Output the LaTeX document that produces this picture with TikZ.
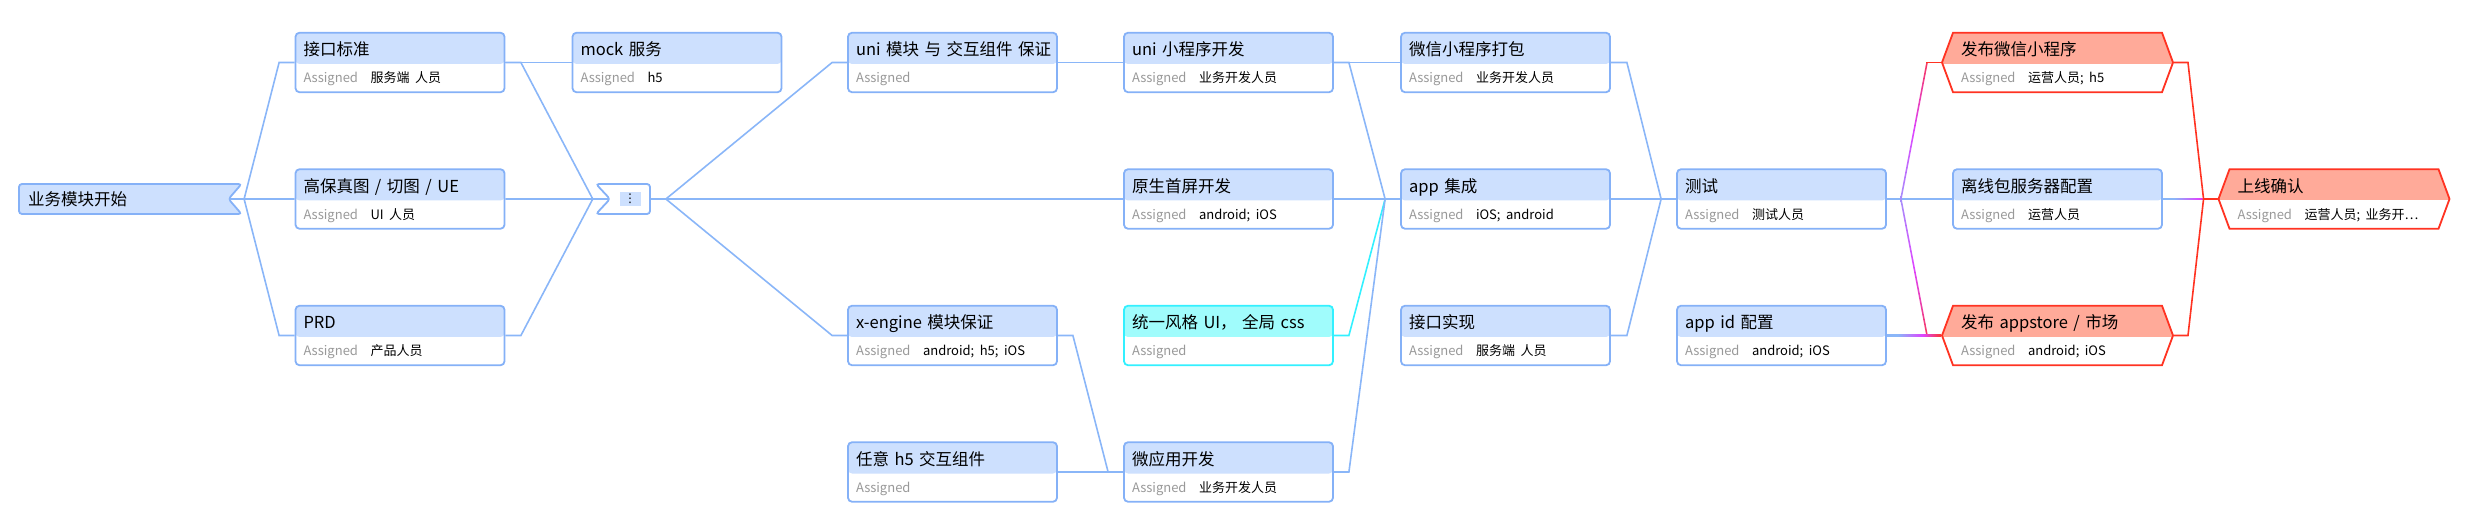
\documentclass[tikz,border=0pt]{standalone}
\usepackage{fontspec}
\setmainfont{Noto Sans CJK SC}
\newfontfamily\symfont{DejaVu Sans}
\usetikzlibrary{shapes.symbols}
\definecolor{lnk}{HTML}{8AB6F8}
\definecolor{bdr}{HTML}{85B1F7}
\definecolor{hdr}{HTML}{CDE0FE}
\definecolor{cyn}{HTML}{33F0FF}
\definecolor{cynhdr}{HTML}{A0FCFC}
\definecolor{rdb}{HTML}{FF3322}
\definecolor{rdhdr}{HTML}{FFAA99}
\definecolor{mgt}{HTML}{DD44FF}
\definecolor{asgray}{HTML}{999999}

\newcommand\asgn{\fontsize{13}{27}\selectfont\makebox[67pt][l]{\color{asgray}Assigned}}

\pgfdeclarehorizontalshading{lnkshade}{100bp}{color(0bp)=(lnk); color(35bp)=(lnk); color(58bp)=(mgt); color(76bp)=(rdb); color(100bp)=(rdb)}
\pgfdeclareverticalshading{lnkvshade}{100bp}{color(0bp)=(lnk); color(12bp)=(lnk); color(50bp)=(mgt); color(85bp)=(rdb); color(100bp)=(rdb)}

\tikzset{
  hdrfill/.style={path picture={\fill[#1] (path picture bounding box.north west) rectangle ([yshift=-1.5pt]path picture bounding box.east);}},
  task/.style={rectangle, rounded corners=4pt, draw=bdr, line width=1.8pt, fill=white,
    minimum width=209pt, minimum height=59.5pt, text width=193pt, inner xsep=8pt, inner ysep=0pt,
    text height=23pt, text depth=36.5pt, align=left, font=\fontsize{16.5}{27}\selectfont, hdrfill=hdr},
  uitask/.style={task, draw=cyn, hdrfill=cynhdr},
  release/.style={task, shape=signal, signal to=west and east, signal pointer angle=139.4,
    sharp corners, draw=rdb, hdrfill=rdhdr},
  startbox/.style={shape=signal, signal from=east, signal to=nowhere, signal pointer angle=98,
    draw=bdr, fill=hdr, line width=1.8pt, rounded corners=3pt, minimum width=222.5pt, minimum height=30pt,
    text width=191.5pt, inner xsep=9pt, inner ysep=0pt, align=left, font=\fontsize{16.5}{20}\selectfont},
  mrgbox/.style={shape=signal, signal from=west, signal to=nowhere, signal pointer angle=94,
    draw=bdr, fill=white, line width=1.8pt, rounded corners=3pt, minimum width=54pt, minimum height=30pt, inner sep=0pt},
  link/.style={draw=lnk, line width=1.6pt},
  uilink/.style={draw=cyn, line width=1.6pt},
  rlink/.style={draw=rdb, line width=1.6pt},
  gradup/.style={shading=lnkvshade},
  graddown/.style={shading=lnkvshade, shading angle=180},
  gradbar/.style={shading=lnkshade}
}

\begin{document}
\begin{tikzpicture}[x=1pt, y=-1pt]
\useasboundingbox (0,0) rectangle (2470,510);

\node[startbox] (start) at (123.75,199) {业务模块开始};

\node[task] (jkbz) at (400,62.5) {接口标准\\\asgn 服务端 人员};
\node[task] (gbz) at (400,199) {高保真图 / 切图 / UE\\\asgn UI 人员};
\node[task] (prd) at (400,335.5) {PRD\\\asgn 产品人员};
\node[task] (mock) at (677,62.5) {mock 服务\\\asgn h5};

\node[mrgbox] (mrg) at (630,199) {\setlength{\fboxsep}{0pt}\colorbox{hdr}{\parbox[c][14pt][c]{21pt}{\centering\symfont\fontsize{12}{12}\selectfont ⋮}}};

\node[task] (unimk) at (952.5,62.5) {\mbox{uni 模块 与 交互组件 保证}\\\asgn};
\node[task] (xeng) at (952.5,335.5) {x-engine 模块保证\\\asgn android; h5; iOS};
\node[task] (rywh5) at (952.5,472) {任意 h5 交互组件\\\asgn};

\node[task] (unixcx) at (1228.5,62.5) {uni 小程序开发\\\asgn 业务开发人员};
\node[task] (yssp) at (1228.5,199) {原生首屏开发\\\asgn android; iOS};
\node[uitask] (tyfg) at (1228.5,335.5) {统一风格 UI， 全局 css\\\asgn};
\node[task] (wyy) at (1228.5,472) {微应用开发\\\asgn 业务开发人员};

\node[task] (wxdb) at (1505.5,62.5) {微信小程序打包\\\asgn 业务开发人员};
\node[task] (appjc) at (1505.5,199) {app 集成\\\asgn iOS; android};
\node[task] (jksx) at (1505.5,335.5) {接口实现\\\asgn 服务端 人员};

\node[task] (cs) at (1781.5,199) {测试\\\asgn 测试人员};
\node[task] (appid) at (1781.5,335.5) {app id 配置\\\asgn android; iOS};

\node[release] (fbwx) at (2057.5,62.5) {发布微信小程序\\\asgn 运营人员; h5};
\node[task] (lxb) at (2057.5,199) {离线包服务器配置\\\asgn 运营人员};
\node[release] (fbas) at (2057.5,335.5) {发布 appstore / 市场\\\asgn android; iOS};

\node[release] (sxqr) at (2334,199) {上线确认\\\asgn 运营人员; 业务开…};

% start -> first column
\draw[link] (start.0) -- ++(14.4,0) -- ([xshift=-15.5pt]jkbz.west) -- (jkbz.west);
\draw[link] (start.0) -- (gbz.west);
\draw[link] (start.0) -- ++(14.4,0) -- ([xshift=-15.5pt]prd.west) -- (prd.west);

% first column -> merge
\draw[link] (jkbz.east) -- (mock.west);
\draw[link] (jkbz.east) -- ++(15.5,0) -- ([xshift=-16pt]mrg.180) -- (mrg.180);
\draw[link] (gbz.east) -- (mrg.180);
\draw[link] (prd.east) -- ++(15.5,0) -- ([xshift=-16pt]mrg.180) -- (mrg.180);

% merge -> modules
\draw[link] (mrg.east) -- ++(15,0) -- ([xshift=-15pt]unimk.west) -- (unimk.west);
\draw[link] (mrg.east) -- (yssp.west);
\draw[link] (mrg.east) -- ++(15,0) -- ([xshift=-15pt]xeng.west) -- (xeng.west);

\draw[link] (unimk.east) -- (unixcx.west);
\draw[link] (xeng.east) -- ++(15,0) -- ([xshift=-15pt]wyy.west) -- (wyy.west);
\draw[link] (rywh5.east) -- (wyy.west);

% development -> packaging
\draw[uilink] (tyfg.east) -- ++(15,0) -- ([xshift=-15pt]appjc.west) -- (appjc.west);
\draw[link] (unixcx.east) -- (wxdb.west);
\draw[link] (unixcx.east) -- ++(15,0) -- ([xshift=-15pt]appjc.west) -- (appjc.west);
\draw[link] (yssp.east) -- (appjc.west);
\draw[link] (wyy.east) -- ++(15,0) -- ([xshift=-15pt]appjc.west) -- (appjc.west);

\draw[link] (wxdb.east) -- ++(16,0) -- ([xshift=-15pt]cs.west) -- (cs.west);
\draw[link] (appjc.east) -- (cs.west);
\draw[link] (jksx.east) -- ++(16,0) -- ([xshift=-15pt]cs.west) -- (cs.west);

% release
\draw[link] (cs.east) -- (lxb.west);
\draw[link] (cs.east) -- ++(14,0);
\shade[gradup] ([xshift=13.2pt]cs.east) -- ([xshift=14.8pt]cs.east) -- ([xshift=-13.2pt]fbwx.180) -- ([xshift=-14.8pt]fbwx.180) -- cycle;
\draw[rlink] ([xshift=-14.8pt]fbwx.180) -- (fbwx.180);
\shade[graddown] ([xshift=13.2pt]cs.east) -- ([xshift=14.8pt]cs.east) -- ([xshift=-13.2pt]fbas.180) -- ([xshift=-14.8pt]fbas.180) -- cycle;
\draw[rlink] ([xshift=-14.8pt]fbas.180) -- (fbas.180);
\shade[gradbar] ([yshift=0.8pt]appid.east) rectangle ([yshift=-0.8pt]fbas.180);

\draw[rlink] (fbwx.0) -- ++(14,0) -- ([xshift=-14pt]sxqr.180) -- (sxqr.180);
\shade[gradbar] ([yshift=0.8pt]lxb.east) rectangle ([yshift=-0.8pt]sxqr.180);
\draw[rlink] (fbas.0) -- ++(14,0) -- ([xshift=-14pt]sxqr.180) -- (sxqr.180);
\end{tikzpicture}
\end{document}
